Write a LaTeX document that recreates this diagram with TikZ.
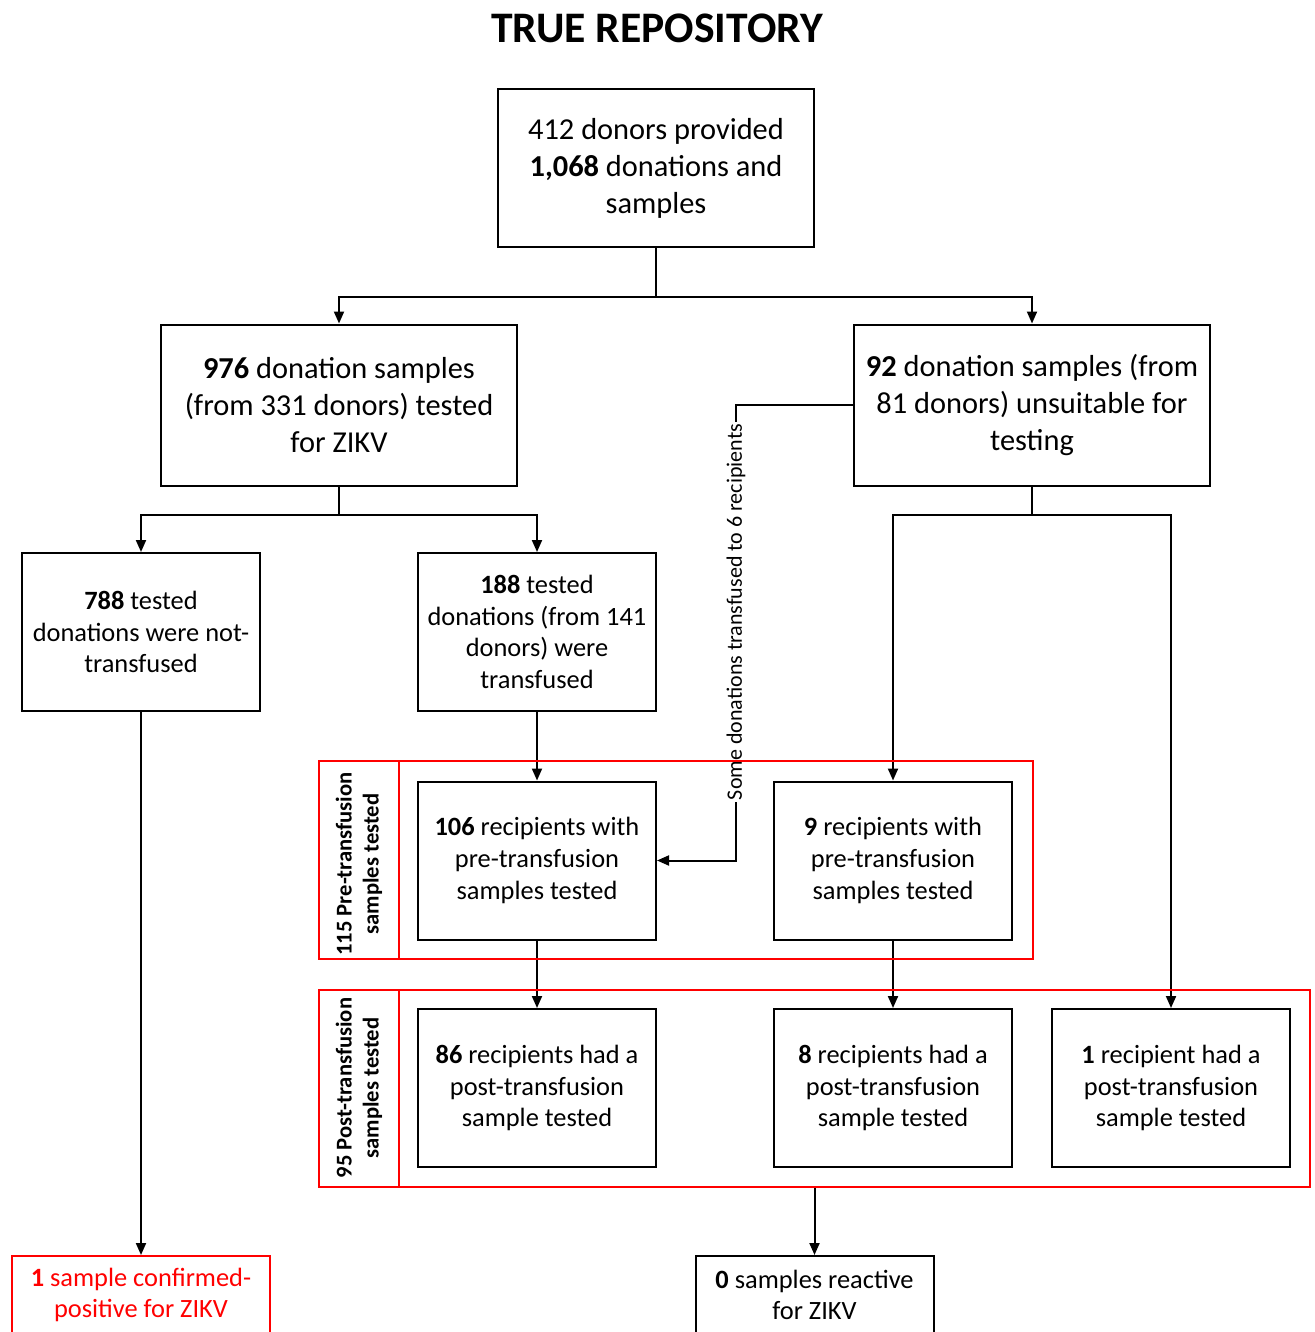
\documentclass[tikz,border=0pt]{standalone}
\usepackage{fontspec}
\setmainfont{Carlito}
\usetikzlibrary{arrows.meta}
\tikzset{
   flowbox/.style={draw, line width=1pt, align=center, inner sep=0pt,
      minimum width=119pt, minimum height=79pt,
      font=\fontsize{13.2}{15.8}\selectfont},
   widebox/.style={flowbox, minimum width=178pt, minimum height=80.5pt,
      font=\fontsize{15.2}{18.5}\selectfont},
   endbox/.style={flowbox, minimum height=39pt},
   redframe/.style={draw=red, line width=0.8pt, inner sep=0pt},
   framelabel/.style={rotate=90, align=center,
      font=\bfseries\fontsize{11.3}{13.5}\selectfont},
   link/.style={line width=1pt, -{Triangle[length=6pt,width=5pt]}},
   }
\begin{document}
\begin{tikzpicture}[x=0.5pt, y=-0.5pt]
   \useasboundingbox (0,0) rectangle (1315,1332);
   \node[font=\bfseries\fontsize{21.8}{24}\selectfont] (title) at (657,28) {TRUE REPOSITORY};

   \node[widebox, minimum width=158pt, minimum height=79pt] (donors) at (656,168)
      {412 donors provided\\ \textbf{1,068} donations and\\ samples};
   \node[widebox] (tested) at (339,405)
      {\textbf{976} donation samples\\ (from 331 donors) tested\\ for ZIKV};
   \node[widebox] (unsuit) at (1032,405)
      {\textbf{92} donation samples (from\\ 81 donors) unsuitable for\\ testing};
   \node[flowbox] (nottrans) at (141,632)
      {\textbf{788} tested\\ donations were not-\\ transfused};
   \node[flowbox] (trans) at (537,632)
      {\textbf{188} tested\\ donations (from 141\\ donors) were\\ transfused};
   \node[flowbox] (pre106) at (537,860.5)
      {\textbf{106} recipients with\\ pre-transfusion\\ samples tested};
   \node[flowbox] (pre9) at (893,860.5)
      {\textbf{9} recipients with\\ pre-transfusion\\ samples tested};
   \node[flowbox] (post86) at (537,1088)
      {\textbf{86} recipients had a\\ post-transfusion\\ sample tested};
   \node[flowbox] (post8) at (893,1088)
      {\textbf{8} recipients had a\\ post-transfusion\\ sample tested};
   \node[flowbox] (post1) at (1171,1088)
      {\textbf{1} recipient had a\\ post-transfusion\\ sample tested};
   \node[endbox, draw=red, text=red, minimum width=129pt] (positive) at (141,1295)
      {\textbf{1} sample confirmed-\\ positive for ZIKV};
   \node[endbox] (reactive) at (814.5,1295)
      {\textbf{0} samples reactive\\ for ZIKV};

   \draw[link] (donors.south) -- ++(0,49) -| (tested.north);
   \draw[link] (donors.south) -- ++(0,49) -| (unsuit.north);
   \draw[link] (tested.south) -- ++(0,28) -| (nottrans.north);
   \draw[link] (tested.south) -- ++(0,28) -| (trans.north);
   \draw[link] (unsuit.south) -- ++(0,28) -| (pre9.north);
   \draw[link] (unsuit.south) -- ++(0,28) -| (post1.north);
   \draw[link] (unsuit.west) -- ++(-117,0) |- (pre106.east);
   \node[rotate=90, fill=white, inner sep=1pt, font=\fontsize{11}{12}\selectfont]
      (some) at (736,612) {Some donations transfused to 6 recipients};
   \draw[link] (trans.south) -- (pre106.north);
   \draw[link] (pre106.south) -- (post86.north);
   \draw[link] (pre9.south) -- (post8.north);
   \draw[link] (nottrans.south) -- (positive.north);

   % groups of recipient samples
   \node[redframe, minimum width=357pt, minimum height=99pt] (preframe) at (676,860) {};
   \draw[red, line width=0.8pt] (399,761) -- (399,959);
   \node[framelabel] (prelbl) at (359,864) {115 Pre-transfusion\\ samples tested};
   \node[redframe, minimum width=495.5pt, minimum height=98.5pt] (postframe) at (814.5,1088.5) {};
   \draw[red, line width=0.8pt] (399,990) -- (399,1187);
   \node[framelabel] (postlbl) at (359,1088) {95 Post-transfusion\\ samples tested};
   \draw[link] (postframe.south) -- (reactive.north);
\end{tikzpicture}
\end{document}
